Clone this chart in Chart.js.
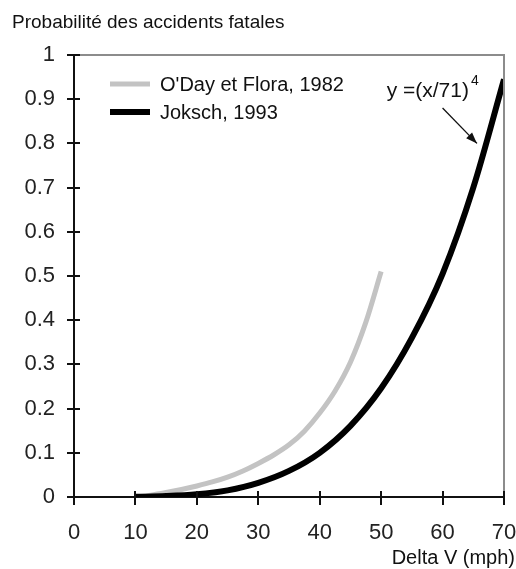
<!DOCTYPE html>
<html>
<head>
<meta charset="utf-8">
<script src="https://cdn.jsdelivr.net/npm/chart.js@4.4.0/dist/chart.umd.min.js"></script>
<style>
  html, body { margin: 0; padding: 0; background: #fff; }
  #wrap { width: 516px; height: 569px; }
</style>
</head>
<body>
<div id="wrap"><canvas id="fatalChart" width="516" height="569"></canvas></div>
<script>
// Delta V (mph) and probability for O'Day et Flora (1982)
const odaySpeed = [10, 12.5, 15, 17.5, 20, 22.5, 25, 27.5, 30, 32.5, 35, 37.5, 40, 42.5, 45, 47.5, 50];
const odayProb = [0, 0.004, 0.01, 0.017, 0.025, 0.034, 0.045, 0.059, 0.076, 0.095, 0.118, 0.149, 0.19, 0.24, 0.305, 0.395, 0.51];

// Joksch (1993), y = (x/71)^4
const jokschSpeed = [10, 15, 20, 25, 30, 35, 40, 45, 50, 55, 60, 65, 70];
const jokschProb = [0.0004, 0.002, 0.006, 0.015, 0.032, 0.059, 0.10, 0.161, 0.246, 0.36, 0.505, 0.70, 0.945];

const seriesLabels = ["O'Day et Flora, 1982", "Joksch, 1993"];
const yTitle = "Probabilité des accidents fatales";
const xTitle = "Delta V (mph)";

const FONT = "'Liberation Sans', Arial, sans-serif";

const toPoints = (xs, ys) => xs.map((x, i) => ({ x: x, y: ys[i] }));

// frame, inner tick halves, legend and text labels
const decorations = {
  id: "decorations",
  afterDraw(chart) {
    const { ctx, chartArea: a, scales } = chart;
    ctx.save();

    // grey top and right frame
    ctx.strokeStyle = "#8c8c8c";
    ctx.lineWidth = 2;
    ctx.beginPath();
    ctx.moveTo(a.left, a.top);
    ctx.lineTo(a.right, a.top);
    ctx.lineTo(a.right, a.bottom);
    ctx.stroke();

    // tick marks crossing into the plot
    ctx.strokeStyle = "#111";
    ctx.lineWidth = 2;
    ctx.beginPath();
    scales.y.ticks.forEach(t => {
      const py = Math.round(scales.y.getPixelForValue(t.value));
      ctx.moveTo(a.left, py);
      ctx.lineTo(a.left + 6, py);
    });
    scales.x.ticks.forEach(t => {
      const px = Math.round(scales.x.getPixelForValue(t.value));
      ctx.moveTo(px, a.bottom);
      ctx.lineTo(px, a.bottom - 6);
    });
    ctx.stroke();

    // legend
    chart.data.datasets.forEach((ds, i) => {
      const ly = a.top + 29 + i * 28;
      ctx.strokeStyle = ds.borderColor;
      ctx.lineWidth = ds.borderWidth;
      ctx.beginPath();
      ctx.moveTo(a.left + 36, ly);
      ctx.lineTo(a.left + 76, ly);
      ctx.stroke();
      ctx.fillStyle = "#111";
      ctx.font = "20px " + FONT;
      ctx.textBaseline = "middle";
      ctx.textAlign = "left";
      ctx.fillText(ds.label, a.left + 86, ly + 1);
    });

    // titles
    ctx.fillStyle = "#111";
    ctx.font = "19px " + FONT;
    ctx.textBaseline = "alphabetic";
    ctx.textAlign = "left";
    ctx.fillText(yTitle, 12, 28);
    ctx.font = "20px " + FONT;
    ctx.textAlign = "right";
    ctx.fillText(xTitle, 515, 564);

    // formula note with arrow to the Joksch curve
    const nx = scales.x.getPixelForValue(50.9);
    const ny = scales.y.getPixelForValue(0.905);
    ctx.textAlign = "left";
    ctx.font = "21px " + FONT;
    const main = "y =(x/71)";
    ctx.fillText(main, nx, ny);
    const w = ctx.measureText(main).width;
    ctx.font = "14px " + FONT;
    ctx.fillText("4", nx + w + 2, ny - 12);

    const x0 = scales.x.getPixelForValue(60.0), y0 = scales.y.getPixelForValue(0.88);
    const x1 = scales.x.getPixelForValue(65.6), y1 = scales.y.getPixelForValue(0.80);
    ctx.strokeStyle = "#111";
    ctx.lineWidth = 1.3;
    ctx.beginPath();
    ctx.moveTo(x0, y0);
    ctx.lineTo(x1, y1);
    ctx.stroke();
    const ang = Math.atan2(y1 - y0, x1 - x0);
    ctx.fillStyle = "#111";
    ctx.beginPath();
    ctx.moveTo(x1, y1);
    ctx.lineTo(x1 - 12 * Math.cos(ang - 0.35), y1 - 12 * Math.sin(ang - 0.35));
    ctx.lineTo(x1 - 12 * Math.cos(ang + 0.35), y1 - 12 * Math.sin(ang + 0.35));
    ctx.closePath();
    ctx.fill();

    ctx.restore();
  }
};

new Chart(document.getElementById("fatalChart"), {
  type: "line",
  data: {
    datasets: [
      {
        label: seriesLabels[0],
        data: toPoints(odaySpeed, odayProb),
        borderColor: "#c3c3c3",
        borderWidth: 5,
        order: 1
      },
      {
        label: seriesLabels[1],
        data: toPoints(jokschSpeed, jokschProb),
        borderColor: "#000",
        borderWidth: 6,
        order: 0
      }
    ]
  },
  options: {
    responsive: false,
    animation: false,
    events: [],
    layout: { padding: { top: 55, right: 12, left: 0, bottom: 0 } },
    elements: {
      point: { radius: 0 },
      line: { cubicInterpolationMode: "monotone", fill: false, borderCapStyle: "butt" }
    },
    plugins: {
      legend: { display: false },
      tooltip: { enabled: false }
    },
    scales: {
      x: {
        type: "linear",
        min: 0,
        max: 70,
        ticks: { stepSize: 10, padding: 15, color: "#222", font: { size: 22, family: FONT } },
        grid: { drawOnChartArea: false, tickLength: 8, color: "#111", lineWidth: 2 },
        border: { color: "#111", width: 2 },
        afterFit(s) { s.height = 72; s.paddingLeft = 0; s.paddingRight = 0; }
      },
      y: {
        min: 0,
        max: 1,
        ticks: {
          stepSize: 0.1,
          padding: 12,
          color: "#222",
          font: { size: 22, family: FONT },
          callback: v => String(Number(v.toFixed(1)))
        },
        grid: { drawOnChartArea: false, tickLength: 7, color: "#111", lineWidth: 2 },
        border: { color: "#111", width: 2 },
        afterFit(s) { s.width = 74; s.paddingTop = 0; s.paddingBottom = 0; }
      }
    }
  },
  plugins: [decorations]
});
</script>
</body>
</html>
